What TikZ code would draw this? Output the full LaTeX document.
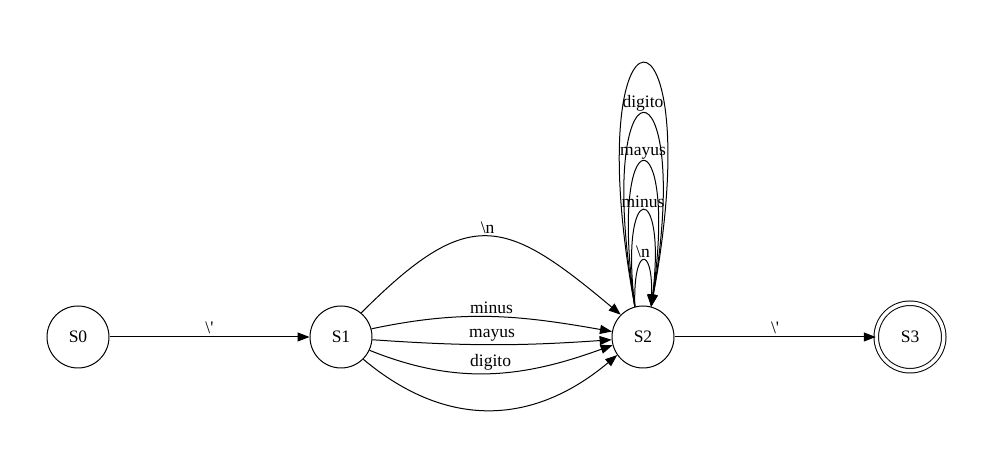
\documentclass[tikz,border=0pt]{standalone}
\usepackage{fontspec}
\setmainfont{Liberation Serif}
\usetikzlibrary{arrows.meta}
\tikzset{>={Triangle[length=12pt,width=9pt]}}
\tikzset{state/.style={draw, circle, minimum size=62pt, inner sep=0pt}}
\tikzset{accepting/.style={state, double, double distance=3.5pt, minimum size=67.5pt}}
\tikzset{lbl/.style={above, inner sep=2.5pt}}

\begin{document}
\begin{tikzpicture}[x=1pt, y=1pt, line width=1pt, font=\fontsize{17.5}{20}\selectfont]

	\useasboundingbox (0,0) rectangle (993,462);

	% States

	\node[state](s0) at (78,125) {S0};

	\node[state](s1) at (341,125) {S1};

	\node[state](s2) at (643,125) {S2};

	\node[accepting](s3) at (910,125) {S3};

	% Transitions

	\draw [->] (s0) to node[lbl] {\textbackslash\textquotesingle} (s1);
	\draw [->] (s2) to node[lbl] {\textbackslash\textquotesingle} (s3);

	\draw [->] (s1.50) to[out=45, in=140, looseness=1.5] node[lbl] {\textbackslash n} (s2.135);
	\draw [->] (s1.15) to[out=12, in=170] node[lbl] {minus} (s2.170);
	\draw [->] (s1.-5) to[out=-4, in=184] node[lbl] {mayus} (s2.185);
	\draw [->] (s1.-25) to[out=-22, in=200] node[lbl] {digito} (s2.195);
	\draw [->] (s1.-45) to[out=-40, in=-140, looseness=1.1] (s2.215);

	% Loops

	\draw [->] (s2.105) .. controls +(-2,61) and +(2,61) .. node[lbl] {\textbackslash n} (s2.75);
	\draw [->] (s2.105) .. controls +(-16,128) and +(16,128) .. node[lbl] {minus} (s2.75);
	\draw [->] (s2.105) .. controls +(-28,193) and +(28,193) .. node[lbl] {mayus} (s2.75);
	\draw [->] (s2.105) .. controls +(-44,257) and +(44,257) .. node[lbl] {digito} (s2.75);
	\draw [->] (s2.105) .. controls +(-60,324) and +(60,324) .. (s2.75);

\end{tikzpicture}
\end{document}
